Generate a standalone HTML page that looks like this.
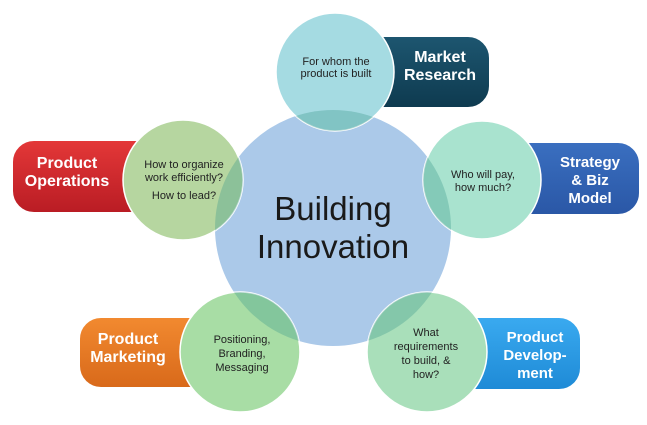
<!DOCTYPE html>
<html><head><meta charset="utf-8"><style>
html,body{margin:0;padding:0;background:#fff}
svg{display:block}
text{font-family:"Liberation Sans",sans-serif}
</style></head><body>
<svg width="647" height="425" viewBox="0 0 647 425">
<defs>
<linearGradient id="gMR" x1="0" y1="0" x2="0" y2="1"><stop offset="0" stop-color="#1d5670"/><stop offset="1" stop-color="#0e3a4f"/></linearGradient>
<linearGradient id="gST" x1="0" y1="0" x2="0" y2="1"><stop offset="0" stop-color="#3a6fc0"/><stop offset="1" stop-color="#2a57a6"/></linearGradient>
<linearGradient id="gOP" x1="0" y1="0" x2="0" y2="1"><stop offset="0" stop-color="#e43838"/><stop offset="1" stop-color="#b91c24"/></linearGradient>
<linearGradient id="gMK" x1="0" y1="0" x2="0" y2="1"><stop offset="0" stop-color="#f28a30"/><stop offset="1" stop-color="#d8691a"/></linearGradient>
<linearGradient id="gDV" x1="0" y1="0" x2="0" y2="1"><stop offset="0" stop-color="#3aaaf0"/><stop offset="1" stop-color="#1e8ad6"/></linearGradient>
<clipPath id="smalls">
<circle cx="335" cy="72" r="59"/><circle cx="482" cy="180" r="59"/><circle cx="183" cy="180" r="60"/><circle cx="240" cy="352" r="60"/><circle cx="427" cy="352" r="60"/>
</clipPath>
</defs>
<g>
<rect x="360" y="36" width="130" height="72" rx="22" fill="url(#gMR)" stroke="#fff" stroke-width="2"/>
<text x="440" y="62" font-size="16" font-weight="bold" fill="#fff" text-anchor="middle">Market</text>
<text x="440" y="80" font-size="16" font-weight="bold" fill="#fff" text-anchor="middle">Research</text>
</g>
<g>
<rect x="505" y="142" width="135" height="73" rx="22" fill="url(#gST)" stroke="#fff" stroke-width="2"/>
<text x="590" y="167" font-size="15" font-weight="bold" fill="#fff" text-anchor="middle">Strategy</text>
<text x="590" y="185" font-size="15" font-weight="bold" fill="#fff" text-anchor="middle">&amp; Biz</text>
<text x="590" y="203" font-size="15" font-weight="bold" fill="#fff" text-anchor="middle">Model</text>
</g>
<g>
<rect x="12" y="140" width="150" height="73" rx="22" fill="url(#gOP)" stroke="#fff" stroke-width="2"/>
<text x="67" y="168" font-size="16" font-weight="bold" fill="#fff" text-anchor="middle">Product</text>
<text x="67" y="186" font-size="16" font-weight="bold" fill="#fff" text-anchor="middle">Operations</text>
</g>
<g>
<rect x="79" y="317" width="140" height="71" rx="22" fill="url(#gMK)" stroke="#fff" stroke-width="2"/>
<text x="128" y="344" font-size="16" font-weight="bold" fill="#fff" text-anchor="middle">Product</text>
<text x="128" y="362" font-size="16" font-weight="bold" fill="#fff" text-anchor="middle">Marketing</text>
</g>
<g>
<rect x="450" y="317" width="131" height="73" rx="22" fill="url(#gDV)" stroke="#fff" stroke-width="2"/>
<text x="535" y="342" font-size="15" font-weight="bold" fill="#fff" text-anchor="middle">Product</text>
<text x="535" y="360" font-size="15" font-weight="bold" fill="#fff" text-anchor="middle">Develop-</text>
<text x="535" y="378" font-size="15" font-weight="bold" fill="#fff" text-anchor="middle">ment</text>
</g>
<circle cx="333" cy="228" r="118" fill="#abc9e9"/>
<circle cx="335" cy="72" r="59" fill="#a5dbe2" stroke="#fff" stroke-width="1.5"/>
<circle cx="482" cy="180" r="59" fill="#a9e3cf" stroke="#fff" stroke-width="1.5"/>
<circle cx="183" cy="180" r="60" fill="#b6d6a0" stroke="#fff" stroke-width="1.5"/>
<circle cx="240" cy="352" r="60" fill="#a8dda5" stroke="#fff" stroke-width="1.5"/>
<circle cx="427" cy="352" r="60" fill="#a9dfba" stroke="#fff" stroke-width="1.5"/>
<circle cx="333" cy="228" r="118" fill="#3f9a8c" fill-opacity="0.35" clip-path="url(#smalls)"/>
<text x="333" y="220" font-size="33" fill="#1a1a1a" text-anchor="middle">Building</text>
<text x="333" y="258" font-size="33" fill="#1a1a1a" text-anchor="middle">Innovation</text>
<g font-size="11" fill="#222" text-anchor="middle">
<text x="336" y="65">For whom the</text>
<text x="336" y="77">product is built</text>
<text x="483" y="178">Who will pay,</text>
<text x="483" y="191">how much?</text>
<text x="184" y="168">How to organize</text>
<text x="184" y="181">work efficiently?</text>
<text x="184" y="199">How to lead?</text>
<text x="242" y="343">Positioning,</text>
<text x="242" y="357">Branding,</text>
<text x="242" y="371">Messaging</text>
<text x="426" y="336">What</text>
<text x="426" y="350">requirements</text>
<text x="426" y="364">to build, &amp;</text>
<text x="426" y="378">how?</text>
</g>
</svg>
</body></html>
